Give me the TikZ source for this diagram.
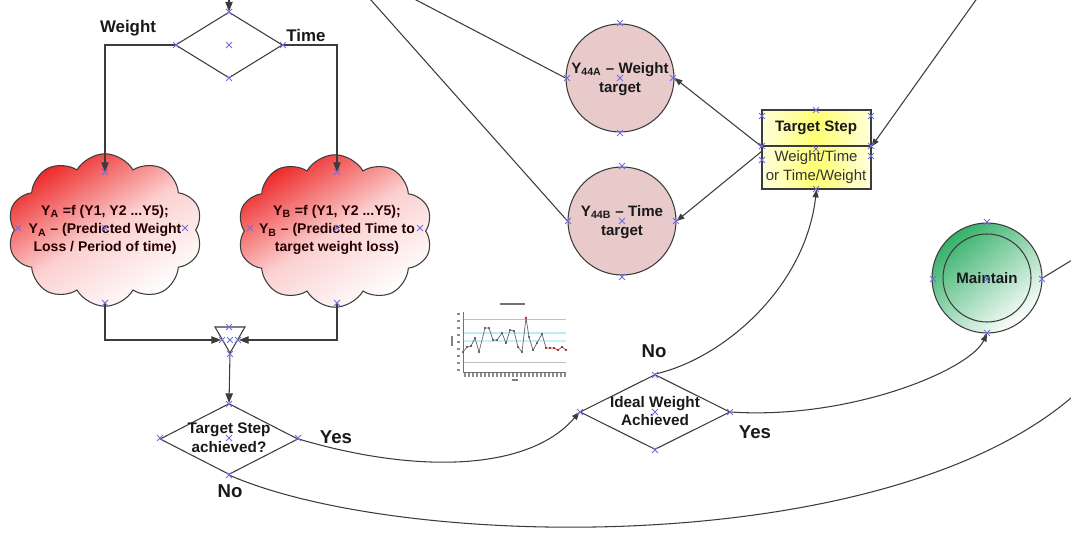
\documentclass[tikz,border=0pt]{standalone}
\usepackage{fontspec}
\setmainfont{Liberation Sans}
\usetikzlibrary{shapes.geometric,shapes.symbols,arrows.meta}

\definecolor{cloudred}{RGB}{238,40,40}
\definecolor{pinkfill}{RGB}{232,202,202}
\definecolor{mgreen}{RGB}{52,176,104}
\definecolor{xblue}{RGB}{110,110,225}
\definecolor{edge}{RGB}{60,60,60}

\begin{document}
\begin{tikzpicture}[x=0.02cm, y=-0.02cm,
  line/.style={draw=edge, line width=0.6pt},
  arr/.style={line, -{Triangle[length=5.5pt,width=4.2pt]}},
  sarr/.style={line, -{Triangle[length=4.5pt,width=3.4pt]}},
  dec/.style={diamond, draw=edge, line width=0.6pt, inner sep=0pt, fill=white},
  cloudbox/.style={cloud, cloud puffs=10, cloud puff arc=120, cloud ignores aspect,
    draw=edge, line width=0.6pt, inner sep=0pt, minimum width=3.9cm, minimum height=3.05cm,
    top color=cloudred, bottom color=white, middle color=cloudred!22!white, shading angle=32},
  cloudtext/.style={align=center, text=black!85!red, font=\bfseries\fontsize{8}{10.3}\selectfont},
  target/.style={circle, draw=edge, line width=0.6pt, fill=pinkfill, minimum size=2.16cm, inner sep=0pt},
  ctext/.style={align=center, text=black!90, font=\bfseries\fontsize{8.6}{10.4}\selectfont},
  dtext/.style={align=center, text=black!90, font=\bfseries\fontsize{8.7}{10.6}\selectfont},
  lbl/.style={text=black!90, font=\bfseries\fontsize{9.6}{11}\selectfont},
  biglbl/.style={text=black!90, font=\bfseries\fontsize{10.6}{12}\selectfont},
  stepcell/.style={rectangle, draw=edge, line width=0.6pt, minimum width=2.18cm, inner sep=0pt,
    left color=yellow!14!white, right color=yellow!14!white, middle color=yellow!55!white},
  xm/.pic={\draw[xblue, line width=0.45pt] (-1.7pt,-1.7pt)--(1.7pt,1.7pt) (-1.7pt,1.7pt)--(1.7pt,-1.7pt);}
]
\clip (0,0) rectangle (1071,533);
\fill[white] (0,0) rectangle (1071,533);

% ---------- left column: split, two models, merge, check ----------
\node[dec, minimum width=2.14cm, minimum height=1.32cm] (split) at (229,45) {};
\coordinate (topIn) at (229,-5);

\node[cloudbox] (cloudA) at (105,230) {};
\node[cloudbox] (cloudB) at (335,231) {};
\coordinate (cAin) at (105,172);
\coordinate (cAout) at (105,303);
\coordinate (cBin) at (337,172);
\coordinate (cBout) at (337,303);

\node[cloudtext] (tA) at (105,230) {Y\textsubscript{A} =f (Y1, Y2 ...Y5);\\Y\textsubscript{A} -- (Predicted Weight\\Loss / Period of time)};
\node[cloudtext] (tB) at (337,230) {Y\textsubscript{B} =f (Y1, Y2 ...Y5);\\Y\textsubscript{B} -- (Predicted Time to\\target weight loss)};

% merge triangle
\draw[edge, line width=0.6pt, fill=white] (215,327) -- (245,327) -- (230,353) -- cycle;
\coordinate (mW) at (221,340);
\coordinate (mE) at (239,340);
\coordinate (mS) at (230,353);

\node[dec, minimum width=2.76cm, minimum height=1.42cm] (stepCheck) at (229,439) {};
\node[dtext] (stepCheckT) at (229,438) {Target Step\\achieved?};

\node[lbl] (wLbl) at (128,28) {Weight};
\node[lbl] (tLbl) at (306,35) {Time};

\draw[arr] (topIn) -- (split.north);
\draw[arr] (split.west) -| (cAin);
\draw[arr] (split.east) -| (cBin);
\draw[arr] (cAout) |- (mW);
\draw[arr] (cBout) |- (mE);
\draw[arr] (mS) -- (stepCheck.north);

% ---------- targets ----------
\node[target] (y44a) at (620,78) {};
\node[ctext] (y44aT) at (620,79) {Y\textsubscript{44A} -- Weight\\target};
\node[target] (y44b) at (622,221) {};
\node[ctext] (y44bT) at (622,222) {Y\textsubscript{44B} -- Time\\target};

\node[stepcell, minimum height=0.72cm] (boxHead) at (816.5,128) {};
\node[stepcell, minimum height=0.86cm] (boxBody) at (816.5,167.5) {};
\node[ctext] (boxHeadT) at (816,128) {Target Step};
\node[align=center, text=black!80, font=\fontsize{8.5}{11.2}\selectfont] (boxBodyT) at (816,167) {Weight/Time\\or Time/Weight};

\coordinate (feedA) at (397,-10);
\coordinate (feedB) at (362,-10);
\coordinate (feedStep) at (983,-10);
\draw[line] (feedA) -- (y44a.west);
\draw[line] (feedB) -- (y44b.west);
\draw[sarr] (feedStep) -- (boxHead.south east);
\draw[sarr] (boxHead.south west) -- (y44a.east);
\draw[sarr] ([yshift=-0.1cm]boxHead.south west) -- (y44b.east);

% ---------- ideal weight check and maintain ----------
\node[dec, minimum width=3.0cm, minimum height=1.5cm] (ideal) at (655,412) {};
\node[dtext] (idealT) at (655,411) {Ideal Weight\\Achieved};

\node[circle, draw=edge, line width=0.6pt, minimum size=2.2cm, inner sep=0pt,
  top color=mgreen, bottom color=white, shading angle=40] (maintain) at (987,278) {};
\draw[edge, line width=0.6pt] (maintain.center) circle (44);
\node[ctext] (maintainT) at (987,278) {Maintain};

\coordinate (maintainOut) at (1100,243);
\coordinate (loopOut) at (1071,398);

\draw[sarr] (stepCheck.east) .. controls (420,475) and (530,470) .. (ideal.west);
\draw[sarr] (ideal.north) .. controls (720,360) and (805,290) .. (boxBody.south);
\draw[sarr] (ideal.east) .. controls (850,420) and (970,370) .. (maintain.south);
\draw[line] (stepCheck.south) .. controls (400,550) and (880,560) .. (loopOut);
\draw[line] (maintain.east) -- (maintainOut);

\node[biglbl] (yes1) at (336,437) {Yes};
\node[biglbl] (no1) at (230,491) {No};
\node[biglbl] (no2) at (654,351) {No};
\node[biglbl] (yes2) at (755,432) {Yes};

% ---------- small weight chart ----------
\begin{scope}[line width=0.3pt]
  \draw[black!55, line width=0.9pt] (500,304) -- (525,304);
  \draw[red!35] (463,319) -- (566,319);
  \draw[cyan!25, line width=0.8pt] (463,333) -- (566,333);
  \draw[cyan!20, line width=0.8pt] (463,341) -- (566,341);
  \draw[black!25] (463,362) -- (566,362);
  \draw[black!55] (463,312) -- (463,372) -- (566,372);
  \foreach \yy in {314,321,...,370} \draw[black!45, line width=0.6pt] (457,\yy) -- (460,\yy);
  \draw[black!50, line width=0.8pt] (452,336) -- (452,346);
  \foreach \xx in {465,469,...,566} \draw[black!45, line width=0.6pt] (\xx,373) -- (\xx,377);
  \draw[black!50, line width=0.8pt] (512,380) -- (518,380);
  \draw[black!60, line width=0.4pt] plot coordinates {(463,352) (467,347) (471,346) (475,338) (479,352) (485,328) (489,328) (493,340) (497,340) (502,333) (506,343) (510,330) (514,331) (518,347) (522,352) (526,318) (529,337) (533,350) (537,343) (542,334) (546,348) (550,348) (554,348) (558,350) (562,347) (566,350)};
  \foreach \px/\py in {463/352,467/347,471/346,475/338,479/352,485/328,489/328,493/340,497/340,502/333,506/343,510/330,514/331,518/347,522/352,529/337,533/350,537/343,542/334}
    \fill[black!70] (\px,\py) circle (0.7pt);
  \foreach \px/\py in {526/318,546/348,550/348,554/348,558/350,562/347,566/350}
    \fill[red!70!black] (\px,\py) circle (0.7pt);
\end{scope}

% ---------- connection point markers ----------
\foreach \px/\py in {229/12,176/45,283/45,229/78,229/45,
  105/172,18/228,105/228,185/228,105/303,
  337/172,250/228,337/228,420/228,337/303,
  229/327,222/340,230/340,238/340,230/354,
  229/404,160/438,229/438,298/438,229/475,
  655/375,580/412,655/412,730/412,655/450,
  620/23,567/78,620/78,673/78,620/133,
  622/166,568/221,622/221,676/221,622/277,
  816/110,762/116,762/146,762/160,871/116,871/146,871/156,816/149,816/189,
  987/222,933/279,987/279,1042/279,987/333}
  \pic at (\px,\py) {xm};
\end{tikzpicture}
\end{document}
